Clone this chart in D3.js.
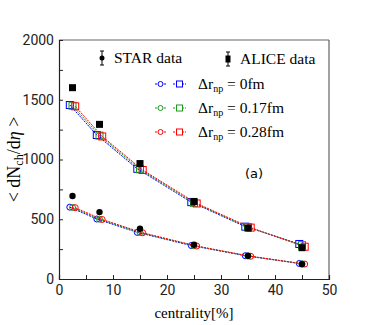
<!DOCTYPE html>
<html>
<head>
<meta charset="utf-8">
<script src="https://cdn.jsdelivr.net/npm/d3@7"></script>
<style>
  body { margin: 0; background: #fff; }
  .tick text { font-family: Roboto, "DejaVu Sans", sans-serif; }
  .serif { font-family: "Liberation Serif", "DejaVu Serif", serif; }
</style>
</head>
<body>
<svg id="chart" width="366" height="325"></svg>
<script>
// centrality bins (%)
var centrality = [2.5, 7.5, 15, 25, 35, 45];

// experimental data
var starData = [694, 560, 421, 287, 195, 123];
var aliceData = [1601, 1294, 966, 649, 426, 262];

// model results, upper = Pb+Pb, lower = Au+Au
var model0Upper = [1456, 1205, 922, 643, 438, 293];
var model0Lower = [601, 502, 390, 280, 195, 130];
var model17Upper = [1450, 1200, 918, 638, 434, 283];
var model17Lower = [599, 500, 389, 278, 192, 128];
var model28Upper = [1445, 1193, 912, 632, 430, 270];
var model28Lower = [597, 498, 387, 276, 190, 125];

var xTicks = [0, 10, 20, 30, 40, 50];
var yTicks = [0, 500, 1000, 1500, 2000];

var svg = d3.select("#chart"),
    margin = {top: 40, right: 37, bottom: 46, left: 59},
    width = +svg.attr("width") - margin.left - margin.right,
    height = +svg.attr("height") - margin.top - margin.bottom,
    g = svg.append("g").attr("transform", "translate(" + margin.left + "," + margin.top + ")");

var x = d3.scaleLinear().domain([0, 50]).range([0, width]);
var y = d3.scaleLinear().domain([0, 2000]).range([height, 0]);

// frame
g.append("line").attr("x1", 0).attr("x2", width).attr("y1", 0).attr("y2", 0)
    .attr("stroke", "#999").attr("stroke-width", 1.5);
g.append("line").attr("x1", width).attr("x2", width).attr("y1", 0).attr("y2", height)
    .attr("stroke", "#444").attr("stroke-width", 1);

// axes, ticks pointing inward
var xAxis = g.append("g")
    .attr("transform", "translate(0," + height + ")")
    .call(d3.axisBottom(x).tickValues(d3.range(0, 51, 5)).tickSize(-4).tickPadding(6)
        .tickFormat(function(d) { return xTicks.indexOf(d) >= 0 ? d : ""; }));
var yAxis = g.append("g")
    .call(d3.axisLeft(y).tickValues(d3.range(0, 2001, 250)).tickSize(-4).tickPadding(5)
        .tickFormat(function(d) { return yTicks.indexOf(d) >= 0 ? d : ""; }));
[xAxis, yAxis].forEach(function(a) {
    a.select(".domain").attr("stroke", "#222").attr("stroke-width", 1.2);
    a.selectAll(".tick line").attr("stroke", "#222");
    a.selectAll(".tick text").attr("fill", "#222").attr("font-size", 14);
});

// axis titles
svg.append("text")
    .attr("class", "serif")
    .attr("transform", "translate(20," + (margin.top + height / 2) + ") rotate(-90)")
    .attr("text-anchor", "middle")
    .attr("font-size", 18)
    .html('&lt; dN<tspan font-size="12" dy="3">ch</tspan><tspan dy="-3">/d</tspan><tspan font-style="italic">η</tspan> &gt;');

svg.append("text")
    .attr("class", "serif")
    .attr("x", margin.left + width / 2)
    .attr("y", 318)
    .attr("text-anchor", "middle")
    .attr("font-size", 15)
    .html('centrality[%]');

// model series
var models = [
    {color: "#0000ff", dx: -0.5, upper: model0Upper, lower: model0Lower, label: "0fm"},
    {color: "#1a9a1a", dx: 0, upper: model17Upper, lower: model17Lower, label: "0.17fm"},
    {color: "#ff0000", dx: 0.5, upper: model28Upper, lower: model28Lower, label: "0.28fm"}
];

var line = d3.line()
    .x(function(d) { return x(d[0]); })
    .y(function(d) { return y(d[1]); });

models.forEach(function(m) {
    var up = centrality.map(function(c, i) { return [c + m.dx, m.upper[i]]; });
    var lo = centrality.map(function(c, i) { return [c + m.dx, m.lower[i]]; });
    [up, lo].forEach(function(pts) {
        g.append("path")
            .attr("d", line(pts))
            .attr("fill", "none")
            .attr("stroke", m.color)
            .attr("stroke-width", 1)
            .attr("stroke-dasharray", "2,1");
    });
    g.selectAll(null).data(up).enter().append("rect")
        .attr("x", function(d) { return x(d[0]) - 3.5; })
        .attr("y", function(d) { return y(d[1]) - 3.5; })
        .attr("width", 7).attr("height", 7)
        .attr("fill", "none").attr("stroke", m.color).attr("stroke-width", 1);
    g.selectAll(null).data(lo).enter().append("circle")
        .attr("cx", function(d) { return x(d[0]); })
        .attr("cy", function(d) { return y(d[1]); })
        .attr("r", 3)
        .attr("fill", "none").attr("stroke", m.color).attr("stroke-width", 1);
});

// experimental points
g.selectAll(null).data(aliceData).enter().append("rect")
    .attr("x", function(d, i) { return x(centrality[i]) - 3.5; })
    .attr("y", function(d) { return y(d) - 3.5; })
    .attr("width", 7).attr("height", 7)
    .attr("fill", "#000");
g.selectAll(null).data(starData).enter().append("circle")
    .attr("cx", function(d, i) { return x(centrality[i]); })
    .attr("cy", function(d) { return y(d); })
    .attr("r", 3.2)
    .attr("fill", "#000");

// legend
var leg = svg.append("g").attr("class", "serif").attr("font-size", 15.5);

function errMarker(cx, cy, square) {
    leg.append("line").attr("x1", cx).attr("x2", cx).attr("y1", cy - 7).attr("y2", cy + 7)
        .attr("stroke", "#000").attr("stroke-width", 1);
    leg.append("line").attr("x1", cx - 2).attr("x2", cx + 2).attr("y1", cy - 7).attr("y2", cy - 7)
        .attr("stroke", "#000");
    leg.append("line").attr("x1", cx - 2).attr("x2", cx + 2).attr("y1", cy + 7).attr("y2", cy + 7)
        .attr("stroke", "#000");
    if (square) {
        leg.append("rect").attr("x", cx - 2.5).attr("y", cy - 3.5).attr("width", 5).attr("height", 7).attr("fill", "#000");
    } else {
        leg.append("circle").attr("cx", cx).attr("cy", cy).attr("r", 2.5).attr("fill", "#000");
    }
}
errMarker(102, 58, false);
leg.append("text").attr("x", 114).attr("y", 63).text("STAR data");
errMarker(228, 59, true);
leg.append("text").attr("x", 240).attr("y", 64).text("ALICE data");

models.forEach(function(m, i) {
    var cy = 84 + i * 24;
    leg.append("line").attr("x1", 155).attr("x2", 166).attr("y1", cy).attr("y2", cy)
        .attr("stroke", m.color).attr("stroke-dasharray", "2,1");
    leg.append("circle").attr("cx", 160.5).attr("cy", cy).attr("r", 2.5)
        .attr("fill", "#fff").attr("stroke", m.color);
    leg.append("line").attr("x1", 173).attr("x2", 186).attr("y1", cy).attr("y2", cy)
        .attr("stroke", m.color).attr("stroke-dasharray", "2,1");
    leg.append("rect").attr("x", 176.5).attr("y", cy - 3).attr("width", 6).attr("height", 6)
        .attr("fill", "#fff").attr("stroke", m.color);
    leg.append("text").attr("x", 198).attr("y", cy + 5)
        .html('Δr<tspan font-size="10" dy="3">np</tspan><tspan dy="-3"> = ' + m.label + '</tspan>');
});

svg.append("text")
    .attr("x", 245).attr("y", 178)
    .attr("font-family", "DejaVu Sans, sans-serif")
    .attr("font-size", 13)
    .text("(a)");
</script>
</body>
</html>
